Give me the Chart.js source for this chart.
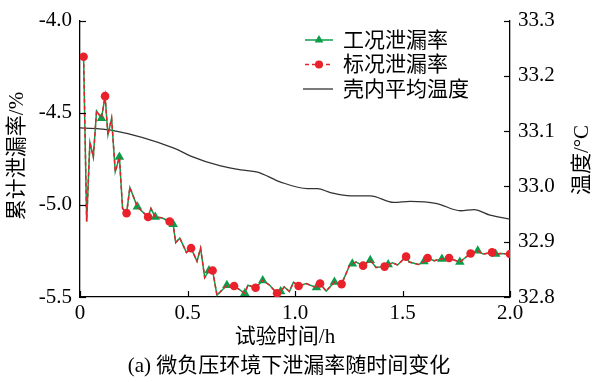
<!DOCTYPE html>
<html>
<head>
<meta charset="utf-8">
<script src="https://cdn.jsdelivr.net/npm/chart.js@4.4.1/dist/chart.umd.min.js"></script>
<style>
    html, body { margin: 0; padding: 0; background: #ffffff; }
</style>
</head>
<body>
<canvas id="myChart" width="592" height="382"></canvas>
<script>
// 泄漏率采样时刻 (h)
const hours =
[
    0.0167, 0.031, 0.046, 0.062, 0.077, 0.1, 0.1167, 0.13, 0.147, 0.164,
    0.1833, 0.198, 0.2167, 0.232, 0.2667, 0.3167, 0.33, 0.35, 0.38, 0.4167,
    0.4333, 0.445, 0.464, 0.495, 0.5167, 0.544, 0.561, 0.58, 0.6, 0.6167,
    0.637, 0.6833, 0.7167, 0.7667, 0.781, 0.8167, 0.85, 0.882, 0.9167, 0.9333,
    0.95, 0.974, 0.993, 1.0167, 1.052, 1.1, 1.1167, 1.145, 1.1833, 1.2167,
    1.253, 1.2667, 1.284, 1.3167, 1.35, 1.377, 1.4167, 1.4333, 1.454, 1.477,
    1.5167, 1.531, 1.575, 1.6, 1.6167, 1.647, 1.6833, 1.7167, 1.74, 1.7667,
    1.8167, 1.85, 1.875, 1.9167, 1.9333, 1.957, 2.0
];

// 工况泄漏率 (%)
const workRate =
[
    -4.196, -5.09, -4.66, -4.74, -4.49, -4.53, -4.41, -4.62, -4.53, -4.82,
    -4.74, -5.02, -5.045, -4.906, -5.01, -5.066, -5.02, -5.066, -5.07, -5.09,
    -5.105, -5.205, -5.18, -5.258, -5.235, -5.306, -5.235, -5.395, -5.356, -5.356,
    -5.49, -5.436, -5.44, -5.48, -5.436, -5.45, -5.41, -5.436, -5.48, -5.47,
    -5.445, -5.47, -5.42, -5.44, -5.427, -5.449, -5.427, -5.468, -5.419, -5.43,
    -5.33, -5.32, -5.31, -5.33, -5.30, -5.34, -5.335, -5.324, -5.315, -5.326,
    -5.281, -5.31, -5.324, -5.308, -5.288, -5.303, -5.294, -5.288, -5.299, -5.31,
    -5.264, -5.249, -5.267, -5.258, -5.267, -5.264, -5.267
];

// 标况泄漏率 (%)
const stdRate =
[
    -4.196, -5.09, -4.66, -4.74, -4.49, -4.53, -4.41, -4.62, -4.53, -4.82,
    -4.74, -5.02, -5.045, -4.906, -5.01, -5.066, -5.02, -5.066, -5.07, -5.09,
    -5.105, -5.205, -5.18, -5.258, -5.235, -5.306, -5.235, -5.395, -5.356, -5.356,
    -5.49, -5.436, -5.44, -5.48, -5.436, -5.45, -5.41, -5.436, -5.48, -5.47,
    -5.445, -5.47, -5.42, -5.44, -5.427, -5.449, -5.427, -5.468, -5.419, -5.43,
    -5.33, -5.32, -5.31, -5.33, -5.30, -5.34, -5.335, -5.324, -5.315, -5.326,
    -5.281, -5.31, -5.324, -5.308, -5.288, -5.303, -5.294, -5.288, -5.299, -5.31,
    -5.264, -5.249, -5.267, -5.258, -5.267, -5.264, -5.267
];

// 壳内平均温度 (°C)
const tempHours =
[
    0, 0.144, 0.44, 0.515, 0.654, 0.747, 0.826, 0.933, 1.058, 1.104,
    1.165, 1.258, 1.35, 1.46, 1.536, 1.66, 1.77, 1.833, 1.907, 2.0
];
const shellTemp =
[
    33.106, 33.102, 33.069, 33.055, 33.037, 33.030, 33.026, 33.008, 32.996, 32.996,
    32.989, 32.983, 32.983, 32.971, 32.973, 32.969, 32.956, 32.958, 32.948, 32.941
];

const seriesNames = ['工况泄漏率', '标况泄漏率', '壳内平均温度'];
const xTitle = '试验时间/h';
const yTitle = '累计泄漏率/%';
const y2Title = '温度/°C';
const caption = '(a) 微负压环境下泄漏率随时间变化';

const GREEN = '#0c9d4b';
const RED = '#e8212b';
const FONT = '"Liberation Serif", "Noto Sans CJK SC", serif';

const toPoints = (xs, ys) =>
{
    let pts = [];
    for (let i = 0; i < xs.length; i++)
    {
        pts[i] = { x: xs[i], y: ys[i] };
    }
    return pts;
};

// 标记间隔：三角每 5 min，圆点每 6 min，均从第 1 min 开始
const onMark = (t, step) =>
{
    const k = (t - 1 / 60) / step;
    return Math.abs(k - Math.round(k)) < 0.01;
};

const drawTriangle = (ctx, x, y, r) =>
{
    ctx.beginPath();
    ctx.moveTo(x, y - r);
    ctx.lineTo(x + r * 0.87, y + r * 0.5);
    ctx.lineTo(x - r * 0.87, y + r * 0.5);
    ctx.closePath();
    ctx.fill();
};

const decorations =
{
    id: 'decorations',
    afterDraw(chart)
    {
        const { ctx, chartArea: a, scales } = chart;
        ctx.save();
        ctx.strokeStyle = '#000';
        ctx.lineWidth = 1.2;

        // 向内的刻度线
        scales.x.ticks.forEach((t) =>
        {
            const px = Math.round(scales.x.getPixelForValue(t.value)) + 0.5;
            ctx.beginPath();
            ctx.moveTo(px, a.bottom);
            ctx.lineTo(px, a.bottom - 6);
            ctx.stroke();
        });
        scales.y.ticks.forEach((t) =>
        {
            const py = Math.round(scales.y.getPixelForValue(t.value)) + 0.5;
            ctx.beginPath();
            ctx.moveTo(a.left, py);
            ctx.lineTo(a.left + 6, py);
            ctx.stroke();
        });
        scales.y2.ticks.forEach((t) =>
        {
            const py = Math.round(scales.y2.getPixelForValue(t.value)) + 0.5;
            ctx.beginPath();
            ctx.moveTo(a.right, py);
            ctx.lineTo(a.right - 6, py);
            ctx.stroke();
        });

        // 坐标轴标题与图注
        ctx.fillStyle = '#000';
        ctx.font = '21px ' + FONT;
        ctx.textAlign = 'center';
        ctx.textBaseline = 'middle';
        ctx.fillText(xTitle, 285, 337);
        ctx.fillText(caption, 289, 366);

        ctx.save();
        ctx.translate(17, 156);
        ctx.rotate(-Math.PI / 2);
        ctx.fillText(yTitle, 0, 0);
        ctx.restore();

        ctx.save();
        ctx.translate(582, 160);
        ctx.rotate(-Math.PI / 2);
        ctx.fillText(y2Title, 0, 0);
        ctx.restore();

        // 图例
        const rows = [40, 64.5, 89];
        ctx.textAlign = 'left';

        ctx.strokeStyle = GREEN;
        ctx.lineWidth = 1.5;
        ctx.beginPath();
        ctx.moveTo(305, rows[0]);
        ctx.lineTo(333, rows[0]);
        ctx.stroke();
        ctx.fillStyle = GREEN;
        drawTriangle(ctx, 319, rows[0], 5);

        ctx.strokeStyle = RED;
        ctx.setLineDash([4, 3]);
        ctx.beginPath();
        ctx.moveTo(305, rows[1]);
        ctx.lineTo(333, rows[1]);
        ctx.stroke();
        ctx.setLineDash([]);
        ctx.fillStyle = RED;
        ctx.beginPath();
        ctx.arc(319, rows[1], 4, 0, Math.PI * 2);
        ctx.fill();

        ctx.strokeStyle = '#333';
        ctx.lineWidth = 1.3;
        ctx.beginPath();
        ctx.moveTo(303, rows[2]);
        ctx.lineTo(333, rows[2]);
        ctx.stroke();

        ctx.fillStyle = '#000';
        for (let i = 0; i < seriesNames.length; i++)
        {
            ctx.fillText(seriesNames[i], 343, rows[i] + 1);
        }
        ctx.restore();
    }
};

const ctx = document.getElementById('myChart');

const data =
{
    datasets:
    [
        {
            label: seriesNames[1],
            data: toPoints(hours, stdRate),
            yAxisID: 'y',
            order: 0,
            borderColor: RED,
            borderWidth: 1.5,
            borderDash: [4, 3],
            backgroundColor: RED,
            pointStyle: 'circle',
            pointBorderWidth: 0,
            pointRadius: (c) =>
            {
                const t = hours[c.dataIndex];
                return (onMark(t, 0.1) || c.dataIndex === hours.length - 1) ? 4.3 : 0;
            },
            tension: 0
        },
        {
            label: seriesNames[0],
            data: toPoints(hours, workRate),
            yAxisID: 'y',
            order: 1,
            borderColor: GREEN,
            borderWidth: 1.5,
            backgroundColor: GREEN,
            pointStyle: 'triangle',
            pointBorderWidth: 0,
            pointRadius: (c) =>
            {
                const t = hours[c.dataIndex];
                return (onMark(t, 1 / 12) && !onMark(t, 0.1)) ? 5.5 : 0;
            },
            tension: 0
        },
        {
            label: seriesNames[2],
            data: toPoints(tempHours, shellTemp),
            yAxisID: 'y2',
            order: 2,
            borderColor: '#333333',
            borderWidth: 1.3,
            pointRadius: 0,
            cubicInterpolationMode: 'monotone'
        }
    ]
};

new Chart(ctx,
{
    type: 'line',
    data: data,
    plugins: [decorations],
    options:
    {
        responsive: false,
        animation: false,
        devicePixelRatio: 1,
        layout: { padding: { top: 16, left: 0, right: 0, bottom: 0 } },
        plugins:
        {
            legend: { display: false },
            tooltip: { enabled: false }
        },
        scales:
        {
            x:
            {
                type: 'linear',
                position: 'bottom',
                min: 0,
                max: 2,
                afterFit: (s) => { s.height = 85; },
                ticks:
                {
                    stepSize: 0.5,
                    padding: 4,
                    color: '#000',
                    font: { family: FONT, size: 21 },
                    callback: (v) => v === 0 ? '0' : v.toFixed(1)
                },
                grid: { display: false, drawTicks: false },
                border: { display: true, color: '#000', width: 1.3 }
            },
            y:
            {
                position: 'left',
                min: -5.5,
                max: -4.0,
                afterFit: (s) => { s.width = 80; },
                ticks:
                {
                    stepSize: 0.5,
                    padding: 8,
                    color: '#000',
                    font: { family: FONT, size: 21 },
                    callback: (v) => v.toFixed(1)
                },
                grid: { display: false, drawTicks: false },
                border: { display: true, color: '#000', width: 1.3 }
            },
            y2:
            {
                position: 'right',
                min: 32.8,
                max: 33.3,
                afterFit: (s) => { s.width = 82; },
                ticks:
                {
                    stepSize: 0.1,
                    padding: 8,
                    color: '#000',
                    font: { family: FONT, size: 21 },
                    callback: (v) => v.toFixed(1)
                },
                grid: { display: false, drawTicks: false },
                border: { display: true, color: '#000', width: 1.3 }
            }
        }
    }
});
</script>
</body>
</html>
